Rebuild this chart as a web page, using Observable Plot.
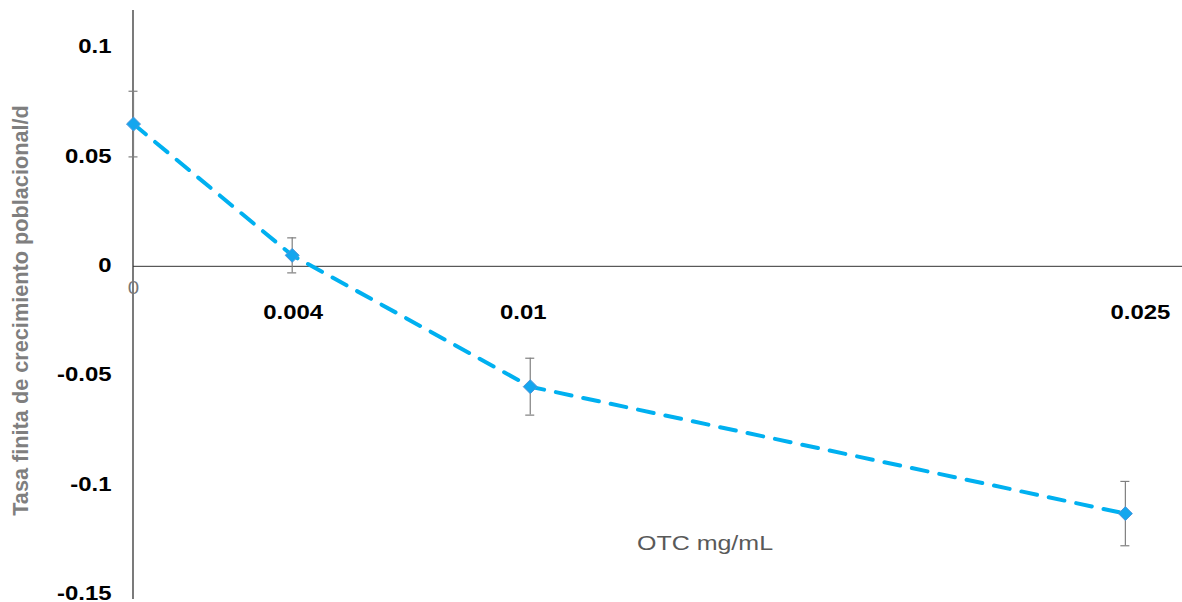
<!DOCTYPE html>
<html>
<head>
<meta charset="utf-8">
<script src="https://cdn.jsdelivr.net/npm/d3@7"></script>
<script src="https://cdn.jsdelivr.net/npm/@observablehq/plot@0.6"></script>
<style>
  html, body { margin: 0; padding: 0; background: #fff; }
  #chart svg { display: block; }
</style>
</head>
<body>
<div id="chart"></div>
<script>
// Data
const concentrations = [0, 0.004, 0.01, 0.025];
const xTickLabels = ["0", "0.004", "0.01", "0.025"];
const growthRate = [0.065, 0.005, -0.055, -0.113];
const errorHalf = [0.015, 0.008, 0.013, 0.0147];
const yTicks = [0.1, 0.05, 0, -0.05, -0.1, -0.15];
const yTickLabels = ["0.1", "0.05", "0", "-0.05", "-0.1", "-0.15"];
const yTitle = "Tasa finita de crecimiento poblacional/d";
const xTitle = "OTC mg/mL";

const points = concentrations.map((c, i) => ({
  x: c, y: growthRate[i], lo: growthRate[i] - errorHalf[i], hi: growthRate[i] + errorHalf[i]
}));
const yTickData = yTicks.map((v, i) => ({v, label: yTickLabels[i]}));
const xTickData = concentrations.map((v, i) => ({v, label: xTickLabels[i]}));
const xTickBold = xTickData.filter(d => d.v !== 0);
const xTickZero = xTickData.filter(d => d.v === 0);

const font = "'Liberation Sans', Arial, sans-serif";
// small horizontal nudges of the x tick labels, as placed in the reference
const labelNudge = {"0.004": 1, "0.01": -7, "0.025": 15};

const chart = Plot.plot({
  width: 1182,
  height: 602,
  marginLeft: 133,
  marginRight: 0,
  marginTop: 10,
  marginBottom: 4,
  style: {fontFamily: font, background: "#fff", overflow: "visible"},
  x: {domain: [0, 0.02644], axis: null},
  y: {domain: [-0.1518, 0.1169], axis: null},
  marks: [
    // y axis line
    Plot.frame({anchor: "left", stroke: "#222", strokeWidth: 1.2, dx: -0.5}),
    // zero line
    Plot.ruleY([0], {stroke: "#333", strokeWidth: 1}),
    // y tick labels
    Plot.text(yTickData, {
      frameAnchor: "left", y: "v", text: "label", textAnchor: "end", dx: -22, dy: -1,
      fontSize: 21, fontWeight: "bold", fill: "#000"
    }),
    // x tick labels
    ...xTickBold.map(d => Plot.text([d], {
      x: "v", y: () => 0, text: "label", dy: 46, dx: labelNudge[d.label] || 0, fontSize: 21, fontWeight: "bold",
      fill: "#000"
    })),
    Plot.text(xTickZero, {
      x: "v", y: () => 0, text: "label", dy: 22, fontSize: 18, fill: "#777"
    }),
    // error bars
    Plot.ruleX(points, {x: "x", y1: "lo", y2: "hi", stroke: "#7f7f7f", strokeWidth: 1.2}),
    Plot.ruleY(points, {y: "hi", x1: "x", x2: "x", insetLeft: -4.5, insetRight: -4.5, stroke: "#7f7f7f", strokeWidth: 1.2}),
    Plot.ruleY(points, {y: "lo", x1: "x", x2: "x", insetLeft: -4.5, insetRight: -4.5, stroke: "#7f7f7f", strokeWidth: 1.2}),
    // dashed line
    Plot.line(points, {x: "x", y: "y", stroke: "#00b0f0", strokeWidth: 4, strokeDasharray: "16,12"}),
    // markers
    Plot.dot(points, {x: "x", y: "y", symbol: "diamond2", r: 6.3, fill: "#14a6ee", stroke: "#4f95d8", strokeWidth: 1}),
    // titles
    Plot.text([yTitle], {
      frameAnchor: "left", textAnchor: "middle", rotate: -90, dx: -112, dy: 6, fontSize: 21.7, fontWeight: "bold",
      fill: "#7f7f7f", text: d => d
    }),
    Plot.text([xTitle], {
      frameAnchor: "bottom", dx: 47, dy: -49, fontSize: 20, fill: "#595959",
      text: d => d
    })
  ]
});
// horizontal stretch of the labels, as in the reference
const boldLabels = new Set([...yTickLabels, ...xTickLabels.slice(1)]);
d3.select(chart).selectAll("text").each(function() {
  const t = this.textContent;
  let s = 1;
  if (boldLabels.has(t)) s = 1.14;
  else if (t === xTitle) s = 1.25;
  if (s === 1) return;
  const x = +(this.getAttribute("x") || 0);
  const existing = this.getAttribute("transform") || "";
  this.setAttribute("transform", `${existing} translate(${x},0) scale(${s},1) translate(${-x},0)`);
});
document.getElementById("chart").appendChild(chart);
</script>
</body>
</html>
